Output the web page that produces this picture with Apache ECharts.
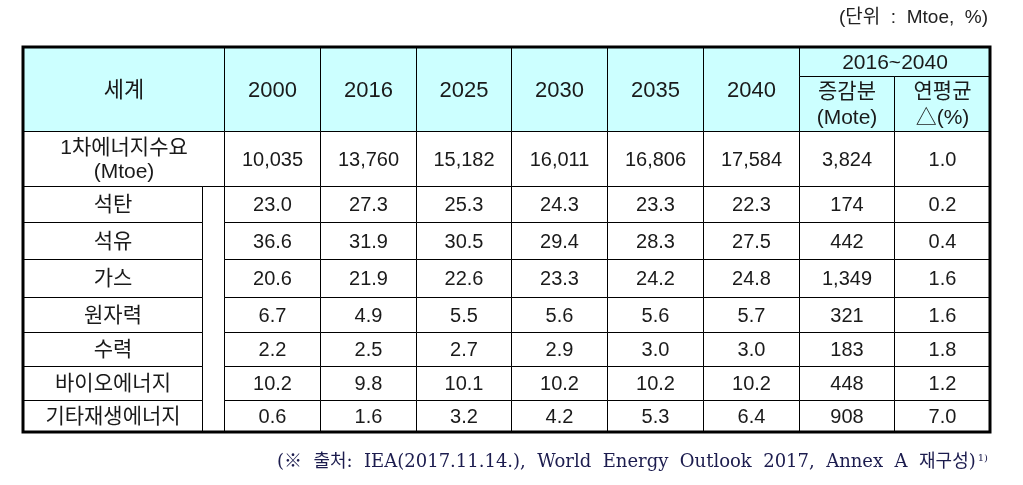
<!DOCTYPE html>
<html>
<head>
<meta charset="utf-8">
<script src="https://cdn.jsdelivr.net/npm/echarts@6/dist/echarts.min.js"></script>
<style>
  html, body { margin: 0; padding: 0; background: #ffffff; }
  #chart { width: 1023px; height: 485px; }
</style>
</head>
<body>
<div id="chart"></div>
<script>
// ---------------- data ----------------
const rowHeader = '세계';
const years = ['2000', '2016', '2025', '2030', '2035', '2040'];
const periodLabel = '2016~2040';
const changeLabel = '증감분\n(Mote)';
const rateLabel = '연평균\n△(%)';
const demandLabel = '1차에너지수요\n(Mtoe)';
const primaryDemand = [10035, 13760, 15182, 16011, 16806, 17584];
const demandChange = 3824;
const demandRate = 1.0;
const sources = ['석탄', '석유', '가스', '원자력', '수력', '바이오에너지', '기타재생에너지'];
const share2000 = [23.0, 36.6, 20.6, 6.7, 2.2, 10.2, 0.6];
const share2016 = [27.3, 31.9, 21.9, 4.9, 2.5, 9.8, 1.6];
const share2025 = [25.3, 30.5, 22.6, 5.5, 2.7, 10.1, 3.2];
const share2030 = [24.3, 29.4, 23.3, 5.6, 2.9, 10.2, 4.2];
const share2035 = [23.3, 28.3, 24.2, 5.6, 3.0, 10.2, 5.3];
const share2040 = [22.3, 27.5, 24.8, 5.7, 3.0, 10.2, 6.4];
const sourceChange = [174, 442, 1349, 321, 183, 448, 908];
const sourceRate = [0.2, 0.4, 1.6, 1.6, 1.8, 1.2, 7.0];
const unitText = '(단위  :  Mtoe,  %)';
const sourceNote = '(※  출처:  IEA(2017.11.14.),  World  Energy  Outlook  2017,  Annex  A  재구성)';
const noteMark = '1)';

// ---------------- layout (axis units) ----------------
const LABEL_W = 2.1;      // width of the label column (in data-column units)
const GAP_W = 0.23;       // empty merged sub column inside the label column
const HEADER_H = 2.39;    // header height (in row units)
const SUBHEAD_H = 0.825;  // height of the "2016~2040" band
const FIRST_H = 1.565;    // height of the primary demand row
const ROW_H = [1.033, 1.053, 1.064, 1.013, 0.959, 0.976, 0.902]; // relative source-row heights
const TOP = -(HEADER_H + FIRST_H);
const HEADER_BG = '#ccffff';
const FONT = '"Liberation Sans", "Noto Sans CJK KR", sans-serif';
const KFONT = 21;

const rowEdges = [0];
ROW_H.forEach(h => rowEdges.push(rowEdges[rowEdges.length - 1] + h));
const BOTTOM = rowEdges[rowEdges.length - 1];

const shares = [share2000, share2016, share2025, share2030, share2035, share2040];
const fmtInt = v => v.toLocaleString('en-US');
const fmt1 = v => v.toFixed(1);

// build cells: [x0, x1, y0, y1] + meta
const cells = [];
function addCell(x0, x1, y0, y1, text, opt) {
  cells.push(Object.assign({ box: [x0, x1, y0, y1], text: text }, opt || {}));
}
// header
addCell(-LABEL_W, 0, TOP, TOP + HEADER_H, rowHeader, { fill: HEADER_BG, size: KFONT + 1 });
years.forEach((y, j) => addCell(j, j + 1, TOP, TOP + HEADER_H, y, { fill: HEADER_BG, size: 22 }));
const nY = years.length;
addCell(nY, nY + 2, TOP, TOP + SUBHEAD_H, periodLabel, { fill: HEADER_BG, size: 21 });
addCell(nY, nY + 1, TOP + SUBHEAD_H, -FIRST_H, changeLabel, { fill: HEADER_BG, size: 21, lh: 26 });
addCell(nY + 1, nY + 2, TOP + SUBHEAD_H, -FIRST_H, rateLabel, { fill: HEADER_BG, size: 21, lh: 26 });
// primary demand row
addCell(-LABEL_W, 0, -FIRST_H, 0, demandLabel, { size: KFONT, lh: 24 });
primaryDemand.forEach((v, j) => addCell(j, j + 1, -FIRST_H, 0, fmtInt(v), { size: 20 }));
addCell(nY, nY + 1, -FIRST_H, 0, fmtInt(demandChange), { size: 20 });
addCell(nY + 1, nY + 2, -FIRST_H, 0, fmt1(demandRate), { size: 20 });
// energy source rows
addCell(-GAP_W, 0, 0, BOTTOM, '', {});
sources.forEach((s, i) => {
  const y0 = rowEdges[i], y1 = rowEdges[i + 1];
  addCell(-LABEL_W, -GAP_W, y0, y1, s, { size: KFONT });
  shares.forEach((arr, j) => addCell(j, j + 1, y0, y1, fmt1(arr[i]), { size: 20 }));
  addCell(nY, nY + 1, y0, y1, fmtInt(sourceChange[i]), { size: 20 });
  addCell(nY + 1, nY + 2, y0, y1, fmt1(sourceRate[i]), { size: 20 });
});

const frame = [[-LABEL_W, nY + 2, TOP, BOTTOM]];

function px(api, x, y) { return api.coord([x, y]); }

function renderCell(params, api) {
  const c = cells[params.dataIndex];
  const a = px(api, api.value(0), api.value(2));
  const b = px(api, api.value(1), api.value(3));
  const x0 = Math.round(a[0]) + 0.5, x1 = Math.round(b[0]) + 0.5;
  const y0 = Math.round(a[1]) + 0.5, y1 = Math.round(b[1]) + 0.5;
  return {
    type: 'group',
    children: [
      {
        type: 'rect',
        shape: { x: x0, y: y0, width: x1 - x0, height: y1 - y0 },
        style: { fill: c.fill || '#ffffff', stroke: '#000000', lineWidth: 1 }
      },
      {
        type: 'text',
        style: {
          text: c.text,
          x: (x0 + x1) / 2,
          y: (y0 + y1) / 2 + 1,
          align: 'center',
          verticalAlign: 'middle',
          font: (c.size || 20) + 'px ' + FONT,
          lineHeight: c.lh || 24,
          fill: '#1a1a1a'
        }
      }
    ]
  };
}

function renderFrame(params, api) {
  const a = px(api, api.value(0), api.value(2));
  const b = px(api, api.value(1), api.value(3));
  return {
    type: 'rect',
    shape: { x: a[0], y: a[1], width: b[0] - a[0], height: b[1] - a[1] },
    style: { fill: 'none', stroke: '#000000', lineWidth: 3 }
  };
}

const SERIF = '"DejaVu Serif", "Noto Sans CJK KR", serif';
const chart = echarts.init(document.getElementById('chart'), null, { renderer: 'canvas' });
chart.setOption({
  backgroundColor: '#ffffff',
  animation: false,
  title: [
    {
      text: unitText,
      right: 30, top: 3,
      textStyle: { fontFamily: FONT, fontSize: 19, fontWeight: 'normal', color: '#222222' }
    },
    {
      text: '{a|' + sourceNote + '}{b|' + noteMark + '}',
      right: 30, top: 448,
      textStyle: {
        fontWeight: 'normal',
        rich: {
          a: { fontFamily: SERIF, fontSize: 18, fontWeight: 'normal', color: '#1c1c4e' },
          b: { fontFamily: SERIF, fontSize: 10, fontWeight: 'normal', color: '#1c1c4e', verticalAlign: 'top', padding: [0, 0, 8, 2] }
        }
      }
    }
  ],
  grid: { left: 23, right: 33, top: 47, bottom: 53 },
  xAxis: { type: 'value', min: -LABEL_W, max: nY + 2, show: false },
  yAxis: { type: 'value', min: TOP, max: BOTTOM, inverse: true, show: false },
  series: [
    {
      type: 'custom',
      renderItem: renderCell,
      data: cells.map(c => c.box),
      encode: { x: [0, 1], y: [2, 3] },
      silent: true
    },
    {
      type: 'custom',
      renderItem: renderFrame,
      data: frame,
      encode: { x: [0, 1], y: [2, 3] },
      silent: true,
      z: 5
    }
  ]
});
</script>
</body>
</html>
